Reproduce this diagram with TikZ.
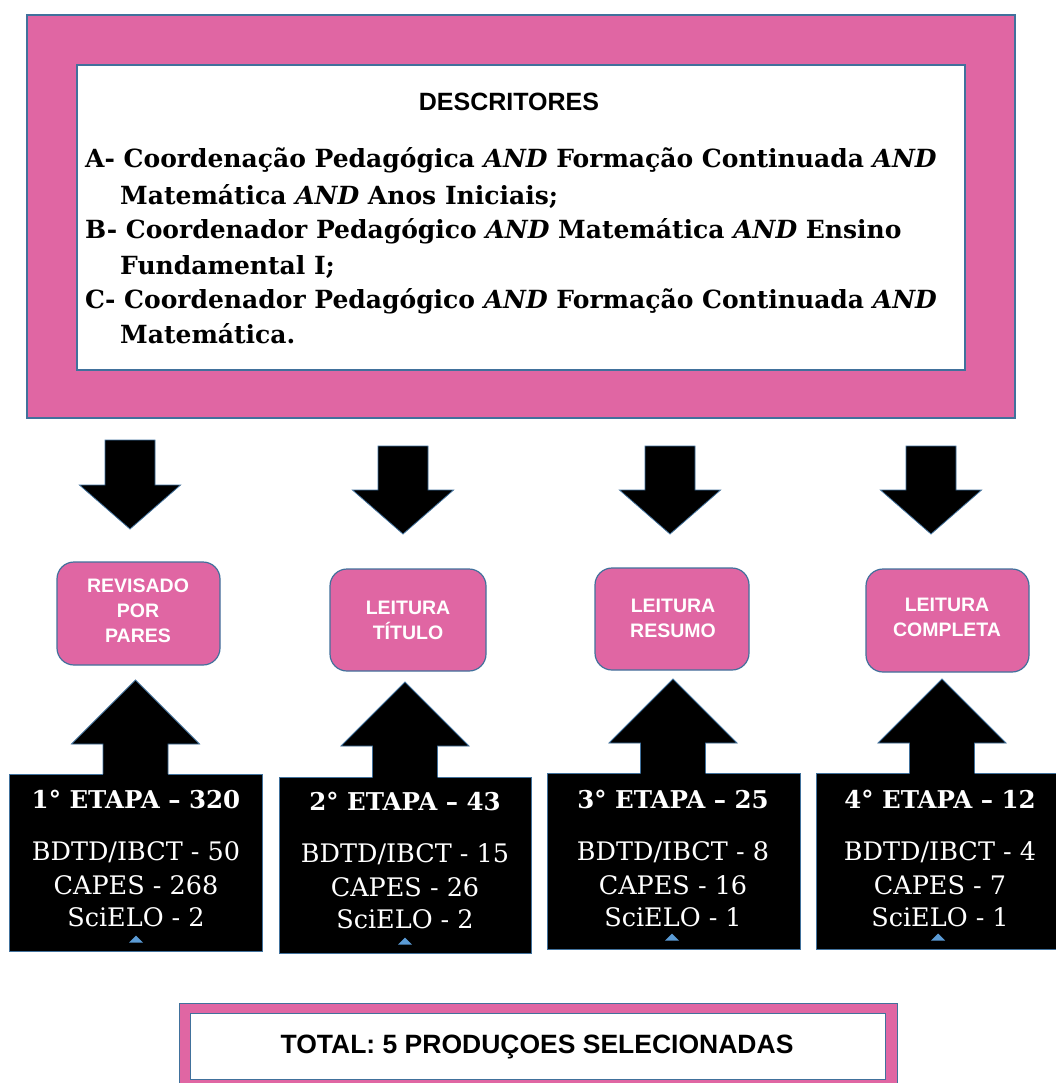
\documentclass[tikz,border=0pt]{standalone}
\usepackage{fontspec}
\setmainfont{DejaVu Serif}
\newfontfamily\sansf{Liberation Sans}
\usetikzlibrary{calc}
\definecolor{pinkf}{RGB}{224,102,163}
\definecolor{edgeb}{RGB}{65,113,156}
\definecolor{trib}{RGB}{91,155,213}
\newcommand\DnArr[3]{% cx, top y, tip y
  \filldraw[fill=black, draw=edgeb, line width=0.8pt, line join=miter]
    (#1-25,#2) -- (#1+25,#2) -- (#1+25,#3-44) -- (#1+50.5,#3-44) -- (#1,#3)
    -- (#1-50.5,#3-44) -- (#1-25,#3-44) -- cycle;}
\newcommand\UpArr[3]{% cx, tip y, bottom y
  \fill[black] (#1-32.5,#3+1.5) -- (#1-32.5,#2+64) -- (#1-64,#2+64) -- (#1,#2)
    -- (#1+64,#2+64) -- (#1+32.5,#2+64) -- (#1+32.5,#3+1.5) -- cycle;
  \draw[edgeb, line width=0.8pt, line join=miter] (#1-32.5,#3) -- (#1-32.5,#2+64)
    -- (#1-64,#2+64) -- (#1,#2) -- (#1+64,#2+64) -- (#1+32.5,#2+64) -- (#1+32.5,#3);}
\newcommand\Tri[2]{\fill[trib] (#1-7,#2+3.5) -- (#1+7,#2+3.5) -- (#1,#2-3.5) -- cycle;}
\begin{document}
\begin{tikzpicture}[x=1pt,y=-1pt,
  pinkbox/.style={draw=edgeb, fill=pinkf, line width=1.2pt, inner sep=0pt},
  whitebox/.style={draw=edgeb, fill=white, line width=1.2pt, inner sep=0pt},
  stagebox/.style={draw=edgeb, fill=pinkf, line width=1.2pt, rounded corners=17pt, inner sep=0pt},
  stagetext/.style={text=white, font=\sansf\bfseries\fontsize{19.5}{25}\selectfont, align=center},
  blackbox/.style={draw=edgeb, fill=black, line width=1pt, inner sep=0pt, minimum height=176pt},
  desc/.style={anchor=base west, inner sep=0pt, font=\bfseries\fontsize{25}{29}\selectfont},
  btitle/.style={text=white, inner sep=0pt, font=\bfseries\fontsize{24.5}{28}\selectfont},
  bline/.style={text=white, inner sep=0pt, font=\fontsize{25.5}{29}\selectfont}
]
\useasboundingbox (0,0) rectangle (1055,1083);
\fill[white] (0,0) rectangle (1055,1083);

% top descriptor box
\node[pinkbox, minimum width=988pt, minimum height=403pt] (outer) at (521,216.5) {};
\node[whitebox, minimum width=888pt, minimum height=305pt] (inner) at (521,217.5) {};
\node[font=\sansf\bfseries\fontsize{25}{30}\selectfont] (tit) at (509,102) {DESCRITORES};
\node[desc] (a1) at (85,168) {A- Coordenação Pedagógica \textit{AND} Formação Continuada \textit{AND}};
\node[desc] (a2) at (120,205) {Matemática \textit{AND} Anos Iniciais;};
\node[desc] (b1) at (85,238) {B- Coordenador Pedagógico \textit{AND} Matemática \textit{AND} Ensino};
\node[desc] (b2) at (120,274) {Fundamental I;};
\node[desc] (c1) at (85,308) {C- Coordenador Pedagógico \textit{AND} Formação Continuada \textit{AND}};
\node[desc] (c2) at (120,343) {Matemática.};

% down arrows
\DnArr{130}{440}{529}
\DnArr{403}{446}{534}
\DnArr{670}{446}{534}
\DnArr{931}{446}{534}

% stage boxes
\node[stagebox, minimum width=163pt, minimum height=103pt] (s1) at (138.5,613.5) {};
\node[stagebox, minimum width=156pt, minimum height=102pt] (s2) at (408,620) {};
\node[stagebox, minimum width=154pt, minimum height=102pt] (s3) at (672,619) {};
\node[stagebox, minimum width=163pt, minimum height=103pt] (s4) at (947.5,620.5) {};
\node[stagetext] (s1t) at (138,611) {REVISADO\\POR\\PARES};
\node[stagetext] (s2t) at (408,620) {LEITURA\\TÍTULO};
\node[stagetext] (s3t) at (673,618) {LEITURA\\RESUMO};
\node[stagetext] (s4t) at (947,617) {LEITURA\\COMPLETA};

% black boxes
\node[blackbox, minimum width=253pt, minimum height=177pt] (e1) at (135.5,862.5) {};
\node[blackbox, minimum width=252pt] (e2) at (405,865) {};
\node[blackbox, minimum width=253pt] (e3) at (673.5,861) {};
\node[blackbox, minimum width=252pt] (e4) at (942,861) {};

% up arrows
\UpArr{135.5}{680}{774}
\UpArr{405}{682}{777}
\UpArr{673}{679}{773}
\UpArr{942}{679}{773}

% stage texts
\node[btitle] (e1t) at (136,799) {1° ETAPA – 320};
\node[bline] (e1a) at (136,852) {BDTD/IBCT - 50};
\node[bline] (e1b) at (136,885) {CAPES - 268};
\node[bline] (e1c) at (136,917) {SciELO - 2};
\node[btitle] (e2t) at (405,801) {2° ETAPA – 43};
\node[bline] (e2a) at (405,854) {BDTD/IBCT - 15};
\node[bline] (e2b) at (405,887) {CAPES - 26};
\node[bline] (e2c) at (405,919) {SciELO - 2};
\node[btitle] (e3t) at (673,799) {3° ETAPA – 25};
\node[bline] (e3a) at (673,852) {BDTD/IBCT - 8};
\node[bline] (e3b) at (673,885) {CAPES - 16};
\node[bline] (e3c) at (673,917) {SciELO - 1};
\node[btitle] (e4t) at (940,799) {4° ETAPA – 12};
\node[bline] (e4a) at (940,852) {BDTD/IBCT - 4};
\node[bline] (e4b) at (940,885) {CAPES - 7};
\node[bline] (e4c) at (940,917) {SciELO - 1};
\Tri{136}{939}
\Tri{405}{941}
\Tri{672}{937}
\Tri{938}{937}

% total box
\node[pinkbox, minimum width=718pt, minimum height=100pt, anchor=north west] (tot) at (179,1003) {};
\node[whitebox, minimum width=695pt, minimum height=66pt, anchor=north west] (totin) at (190,1013) {};
\node[font=\sansf\bfseries\fontsize{26.5}{30}\selectfont] (tott) at (537,1047) {TOTAL: 5 PRODUÇOES SELECIONADAS};
\end{tikzpicture}
\end{document}
